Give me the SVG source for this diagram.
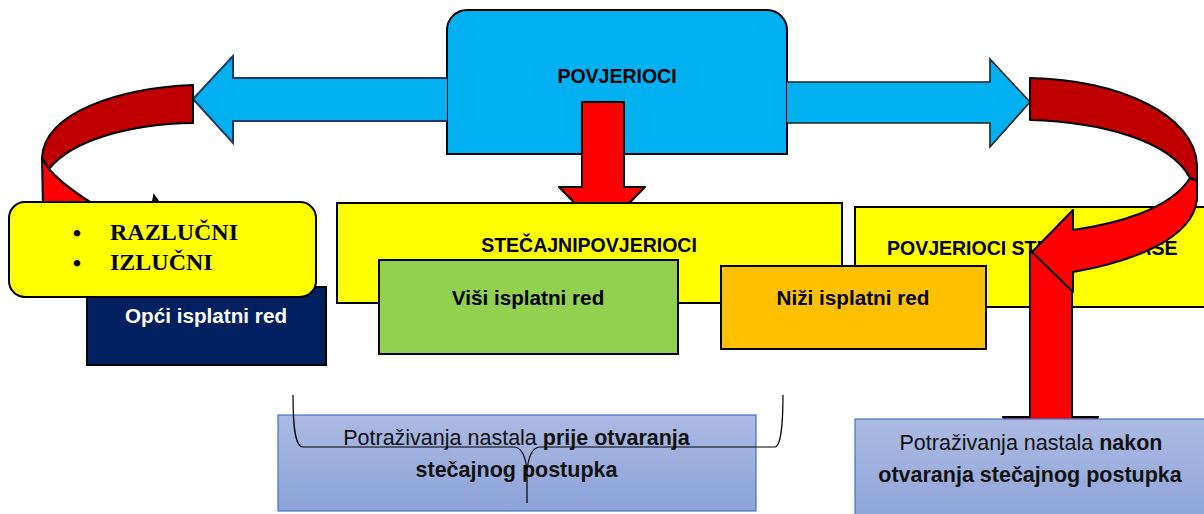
<svg xmlns="http://www.w3.org/2000/svg" width="1204" height="514" viewBox="0 0 1204 514">
  <style>
    .box { stroke: #000; stroke-width: 2; }
    .lbl { font-family: "Liberation Sans", Arial, sans-serif; font-weight: bold; fill: #000; }
    .caps { font-size: 19.5px; }
    .mid { font-size: 20.7px; }
    .note { font-family: "Liberation Sans", Arial, sans-serif; font-size: 21.5px; fill: #111; }
    .b { font-weight: bold; }
    .serif { font-family: "Liberation Serif", "Times New Roman", serif; font-weight: bold; font-size: 24px; fill: #000; }
    .redline { stroke: #000; stroke-width: 2; stroke-linejoin: round; }
    .notebox { fill: url(#noteGrad); stroke: #4472C4; stroke-width: 1.2; }
  </style>
  <defs>
    <linearGradient id="noteGrad" x1="0" y1="0" x2="0" y2="1">
      <stop offset="0" stop-color="#ABBAE3"/>
      <stop offset="1" stop-color="#8CA3D8"/>
    </linearGradient>
  </defs>
  <rect width="1204" height="514" fill="#fff"/>

  <!-- right yellow box (behind arrows) -->
  <g id="povjerioci-stecajne-mase">
    <rect class="box" x="855" y="207" width="370" height="100" fill="#FFFF00"/>
    <text class="lbl caps" x="887" y="255">POVJERIOCI STEČAJNE MASE</text>
  </g>

  <!-- top box -->
  <g id="povjerioci">
    <path class="box" fill="#00B0F0" d="M447,154 L447,30 A20,20 0 0 1 467,10 L767,10 A20,20 0 0 1 787,30 L787,154 Z"/>
    <text class="lbl caps" x="617" y="83" text-anchor="middle">POVJERIOCI</text>
  </g>

  <!-- connectors -->
  <g id="connectors">
    <!-- left blue arrow -->
    <path fill="#00B0F0" stroke="#1F3864" stroke-width="2" stroke-linejoin="miter" d="M447,78 L233,78 L233,56 L193,99 L233,143 L233,121 L447,121"/>
    <!-- right blue arrow -->
    <path fill="#00B0F0" stroke="#222" stroke-width="1.6" d="M787,82 L990,82 L990,59 L1030,102 L990,147 L990,123 L787,123"/>
    <!-- red down arrow to STEČAJNI -->
    <path class="redline" fill="#FF0000" d="M582,102 L624,102 L624,187 L645,187 L602,231 L559,187 L582,187 Z"/>
    <!-- left curved arrow -->
    <path stroke="#000" stroke-width="1.5" fill="#300" d="M152,205 L154,195 L161,205 Z"/>
    <path class="redline" fill="#FF0000" d="M42,158 L49,169 C62,184 78,195 100,208 L43,208 Z"/>
    <path class="redline" fill="#C00000" d="M193,85 C120,88 44,112 42,158 L49,169 C72,140 130,124 193,123 Z"/>
    <!-- right down arrow to bottom box -->
    <path class="redline" fill="#FF0000" d="M1030,252 L1030,417 L1003,417 L1050,465 L1098,417 L1072,417 L1072,252 Z"/>
    <!-- right curved arrow -->
    <path class="redline" fill="#C00000" d="M1030,78 C1120,80 1195,115 1197,165 L1197,181 L1190,178 C1170,140 1100,122 1030,120 Z"/>
    <path class="redline" fill="#FF0000" d="M1190,178 L1197,181 L1197,200 C1192,240 1130,262 1073,272 L1073,292 L1032,252 L1073,210 L1073,230 C1115,224 1170,210 1190,178 Z"/>
  </g>

  <g id="opci-isplatni-red">
    <rect class="box" x="87" y="287" width="239" height="78" fill="#002060"/>
    <text class="lbl mid" x="206" y="323" text-anchor="middle" style="fill:#fff">Opći isplatni red</text>
  </g>

  <g id="razlucni-izlucni">
    <rect class="box" x="9" y="202" width="307" height="95" rx="16" ry="16" fill="#FFFF00"/>
    <text class="serif" x="77" y="241" text-anchor="middle">•</text>
    <text class="serif" x="110" y="240">RAZLUČNI</text>
    <text class="serif" x="77" y="271" text-anchor="middle">•</text>
    <text class="serif" x="110" y="270">IZLUČNI</text>
  </g>

  <g id="stecajni-povjerioci">
    <rect class="box" x="337" y="203" width="505" height="100" fill="#FFFF00"/>
    <text class="lbl caps" x="589" y="252" text-anchor="middle">STEČAJNIPOVJERIOCI</text>
  </g>

  <g id="visi-isplatni-red">
    <rect class="box" x="379" y="260" width="299" height="94" fill="#92D050"/>
    <text class="lbl mid" x="528" y="305" text-anchor="middle">Viši isplatni red</text>
  </g>

  <g id="nizi-isplatni-red">
    <rect class="box" x="721" y="266" width="265" height="83" fill="#FFC000"/>
    <text class="lbl mid" x="853" y="305" text-anchor="middle">Niži isplatni red</text>
  </g>

  <g id="prije-otvaranja">
    <rect class="notebox" x="278" y="415" width="478" height="96"/>
    <text class="note" x="516.5" y="445" text-anchor="middle"><tspan>Potraživanja nastala </tspan><tspan class="b">prije otvaranja</tspan></text>
    <text class="note b" x="516.5" y="477" text-anchor="middle">stečajnog postupka</text>
    <path fill="none" stroke="#000" stroke-width="1.2" d="M293,395 C293,420 294,447 303,447 L514,447 C521,447 526,456 527,472 L527,503 M783,395 C783,420 781,447 775,447 L540,447 C533,447 528,456 527,472"/>
  </g>

  <g id="nakon-otvaranja">
    <rect class="notebox" x="855" y="419" width="370" height="110"/>
    <text class="note" x="1031" y="450" text-anchor="middle"><tspan>Potraživanja nastala </tspan><tspan class="b">nakon</tspan></text>
    <text class="note b" x="1030" y="482" text-anchor="middle">otvaranja stečajnog postupka</text>
  </g>
</svg>
